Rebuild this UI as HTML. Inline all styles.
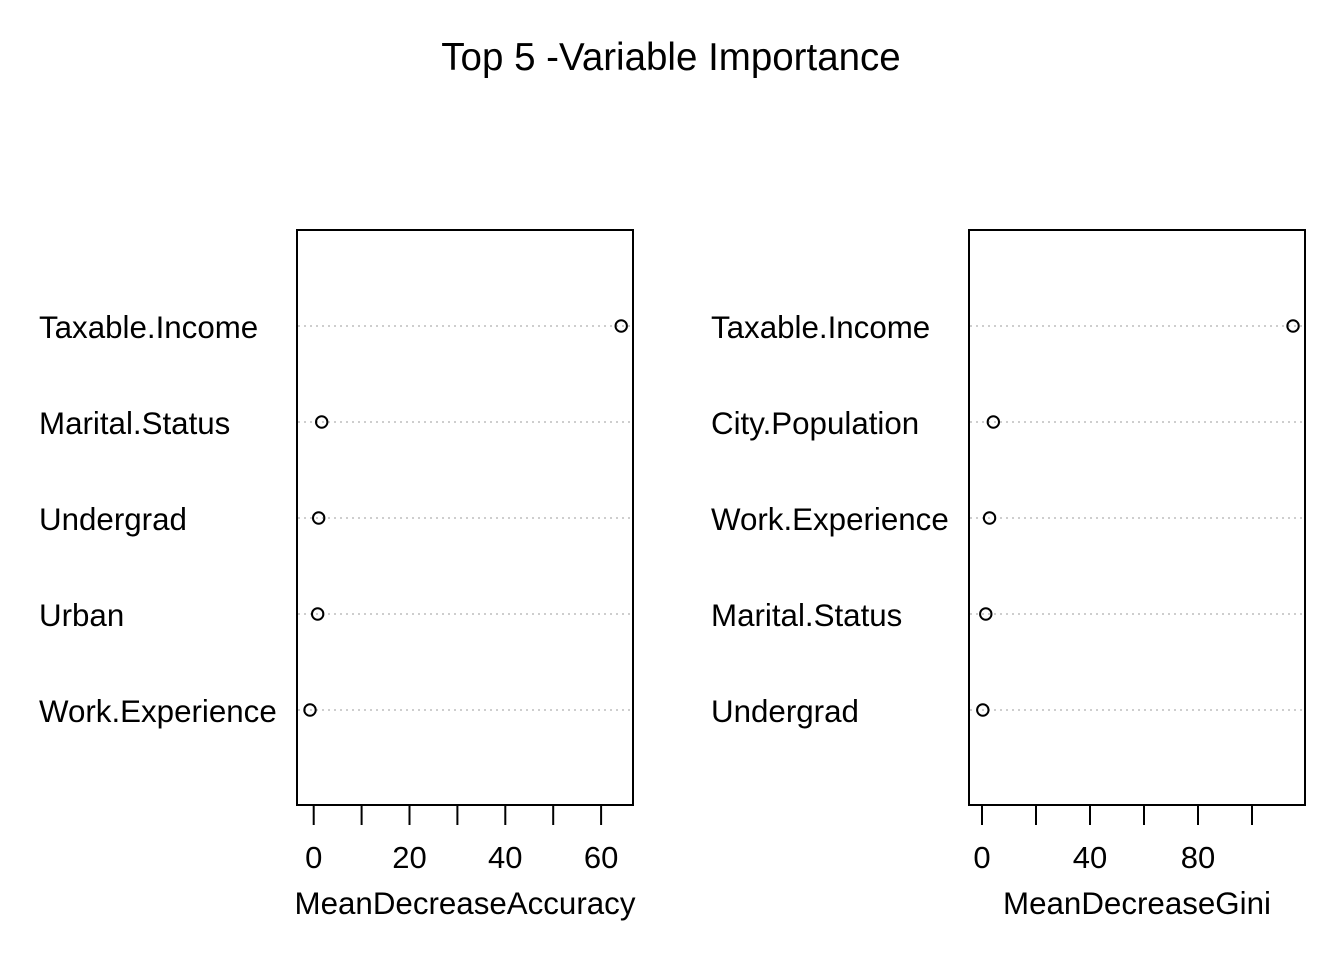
<!DOCTYPE html>
<html><head><meta charset="utf-8"><style>
html,body{margin:0;padding:0;background:#fff;}
svg{display:block;font-family:"Liberation Sans",Arial,sans-serif;}
</style></head><body>
<svg id="chart" width="1344" height="960" viewBox="0 0 1344 960" xmlns="http://www.w3.org/2000/svg">
<rect width="1344" height="960" fill="#fff"/>
<text x="671" y="70" font-size="38.5" text-anchor="middle">Top 5 -Variable Importance</text>
</svg>
<script>
const leftLabels = ["Taxable.Income","Marital.Status","Undergrad","Urban","Work.Experience"];
const leftValues = [64.2, 1.67, 1.04, 0.83, -0.77];
const leftTicks = [0,10,20,30,40,50,60];
const leftTickLabels = ["0","","20","","40","","60"];
const rightLabels = ["Taxable.Income","City.Population","Work.Experience","Marital.Status","Undergrad"];
const rightValues = [115.2, 4.2, 2.8, 1.4, 0.3];
const rightTicks = [0,20,40,60,80,100];
const rightTickLabels = ["0","","40","","80",""];

const svg = document.getElementById('chart');
const NS = 'http://www.w3.org/2000/svg';
function mk(tag, attrs, parent){const e=document.createElementNS(NS,tag);for(const k in attrs)e.setAttribute(k,attrs[k]);(parent||svg).appendChild(e);return e;}
const rowY = i => 326 + i*96;

function panel(prefix, labels, values, ticks, tickLabels, box, labelX, x0, pxPerUnit, axisTitle, titleX){
  const xs = v => x0 + v*pxPerUnit;
  const g = mk('g',{});
  
  
  labels.forEach((lab,i)=>{
    const ln = mk('line',{x1:box.l+1,x2:box.r-3,y1:rowY(i),y2:rowY(i),stroke:'#bebebe','stroke-width':1.5,'stroke-dasharray':'2 4'},g);
    
    
    const t = mk('text',{x:labelX,y:rowY(i)+12,'font-size':31.3},g);
    t.textContent = lab;
    
    
    const c = mk('circle',{cx:xs(values[i]),cy:rowY(i),r:5.7,fill:'none',stroke:'#000','stroke-width':2},g);
    
    
  });
  const r = mk('rect',{x:box.l,y:230,width:box.r-box.l,height:575,fill:'none',stroke:'#000','stroke-width':2},g);
  
  
  ticks.forEach((tv,i)=>{
    const tk = mk('line',{x1:xs(tv),x2:xs(tv),y1:805,y2:825,stroke:'#000','stroke-width':2},g);
    
    
    if(tickLabels[i]){
      const tl = mk('text',{x:xs(tv),y:868,'font-size':31,'text-anchor':'middle'},g);
      tl.textContent = tickLabels[i];
      
      
    }
  });
  const at = mk('text',{x:titleX,y:914,'font-size':31.3,'text-anchor':'middle'},g);
  at.textContent = axisTitle;
  
  
}
panel('accuracy', leftLabels, leftValues, leftTicks, leftTickLabels, {l:297,r:633}, 39, 313.7, 4.79, 'MeanDecreaseAccuracy', 465);
panel('gini', rightLabels, rightValues, rightTicks, rightTickLabels, {l:969,r:1305}, 711, 982, 2.7, 'MeanDecreaseGini', 1137);
</script>
</body></html>
